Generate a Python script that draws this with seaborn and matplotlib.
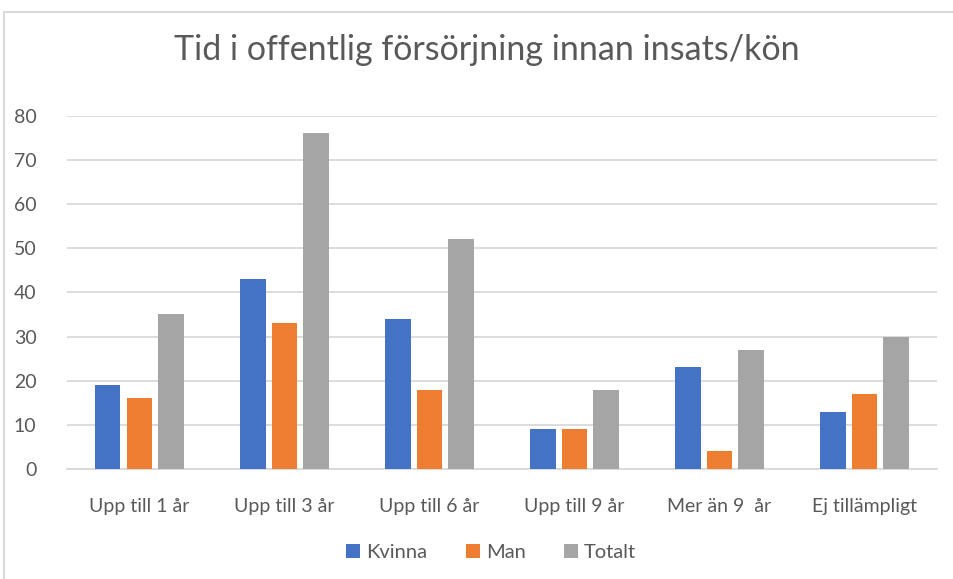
import seaborn as sns
import pandas as pd
import matplotlib.pyplot as plt
from matplotlib.patches import Rectangle

categories = ["Upp till 1 år", "Upp till 3 år", "Upp till 6 år", "Upp till 9 år", "Mer än 9  år", "Ej tillämpligt"]
kvinna = [19, 43, 34, 9, 23, 13]
man = [16, 33, 18, 9, 4, 17]
totalt = [35, 76, 52, 18, 27, 30]

df = pd.DataFrame({"Kategori": categories, "Kvinna": kvinna, "Man": man, "Totalt": totalt})
data = df.melt(id_vars="Kategori", var_name="Kön", value_name="Antal")

office_palette = ["#4472C4", "#ED7D31", "#A5A5A5"]
sns.set_theme(style="white")
plt.rcParams['font.family'] = ['Lato', 'DejaVu Sans']

fig = plt.figure(figsize=(9.54, 5.79), dpi=100)
ax = fig.add_axes([0.0702, 0.19, 0.912, 0.61])
g = sns.barplot(data=data, x="Kategori", y="Antal", hue="Kön", palette=office_palette,
                width=0.66, gap=0.19, saturation=1, linewidth=0, ax=ax, zorder=3)

ax.set_ylim(0, 80)
ax.set_yticks(range(0, 81, 10))
ax.set_xlim(-0.5, len(categories) - 0.5)
ax.yaxis.grid(True, color="#D9D9D9", linewidth=1.3, zorder=0)
for s in ["top", "right", "left"]:
    ax.spines[s].set_visible(False)
ax.spines["bottom"].set_color("#D9D9D9")
ax.spines["bottom"].set_linewidth(1.3)
ax.tick_params(axis="y", length=0, pad=22, labelsize=14, labelcolor="#595959")
ax.tick_params(axis="x", length=0, pad=21, labelsize=14, labelcolor="#595959")
ax.set_xlabel("")
ax.set_ylabel("")

fig.text(0.51, 0.913, "Tid i offentlig försörjning innan insats/kön", ha="center", va="center",
         fontsize=24.5, color="#595959")

ax.legend(loc="center", bbox_to_anchor=(0.515, 0.045), bbox_transform=fig.transFigure, ncol=3,
          frameon=False, fontsize=14.5, labelcolor="#595959", handlelength=0.7, handleheight=0.7,
          handletextpad=0.3, columnspacing=1.9)

fig.patches.append(Rectangle((4 / 954, -0.1), 1.2, 1.1 - 12 / 579, transform=fig.transFigure,
                             fill=False, edgecolor="#D9D9D9", linewidth=1.5, figure=fig))

plt.savefig("out.png", dpi=100)
